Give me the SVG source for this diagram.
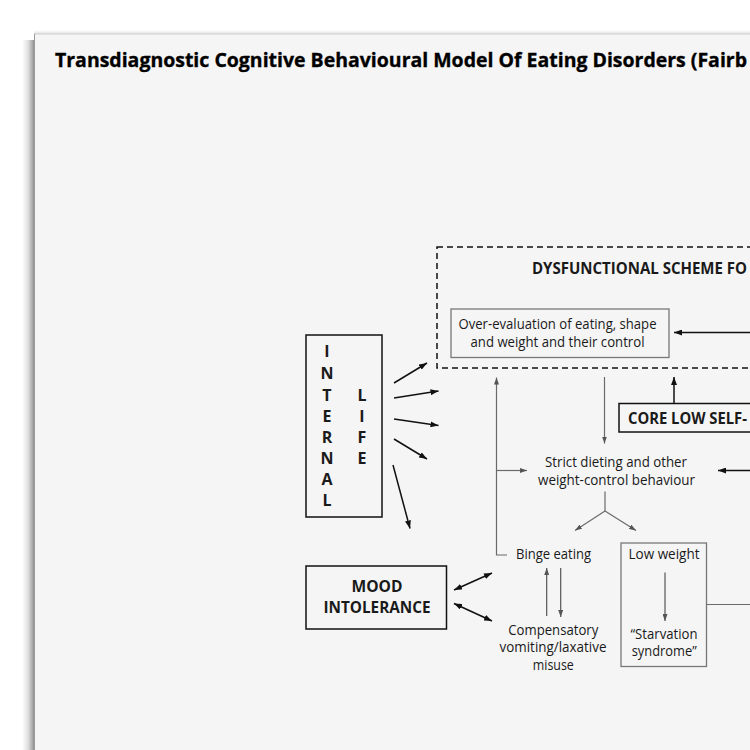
<svg xmlns="http://www.w3.org/2000/svg" width="750" height="750" viewBox="0 0 750 750">
<defs>
<linearGradient id="shadowL" x1="0" x2="1" y1="0" y2="0">
<stop offset="0" stop-color="#000" stop-opacity="0"/>
<stop offset="0.5" stop-color="#000" stop-opacity="0.12"/>
<stop offset="1" stop-color="#000" stop-opacity="0.42"/>
</linearGradient>
<linearGradient id="shadowT" x1="0" x2="0" y1="0" y2="1">
<stop offset="0" stop-color="#000" stop-opacity="0"/>
<stop offset="1" stop-color="#000" stop-opacity="0.12"/>
</linearGradient>
<marker id="ab" viewBox="0 0 8 6" refX="8" refY="3" markerWidth="8" markerHeight="6" markerUnits="userSpaceOnUse" orient="auto-start-reverse">
<path d="M0,0 L8,3 L0,6 Z" fill="#111"/>
</marker>
<marker id="ag" viewBox="0 0 7 5" refX="7" refY="2.5" markerWidth="7" markerHeight="5" markerUnits="userSpaceOnUse" orient="auto-start-reverse">
<path d="M0,0 L7,2.5 L0,5 Z" fill="#555"/>
</marker>
<style>
.bk{stroke:#111;stroke-width:1.5;fill:none}
.gr{stroke:#6a6a6a;stroke-width:1.2;fill:none}
.gd{stroke:#555;stroke-width:1.2;fill:none}
.box{fill:none;stroke:#111;stroke-width:1.5}
.gbox{fill:none;stroke:#777;stroke-width:1.3}
.t{font-family:"Open Sans",Lato,"Liberation Sans",sans-serif;font-size:14.5px;fill:#1a1a1a;text-anchor:middle}
.b{font-weight:bold;font-size:15.5px}
.ah{marker-end:url(#ab)}
.ahg{marker-end:url(#ag)}
</style>
</defs>

<rect x="0" y="0" width="750" height="750" fill="#ffffff"/>
<g id="paper">
<rect x="22" y="40" width="12" height="710" fill="url(#shadowL)"/>
<rect x="34" y="30" width="716" height="4" fill="url(#shadowT)"/>
<rect x="34" y="34" width="716" height="716" fill="#f5f5f5"/>
<line x1="34" y1="34" x2="750" y2="34" stroke="#cfcfcf" stroke-width="1"/>
<line x1="34.5" y1="34" x2="34.5" y2="750" stroke="#9a9a9a" stroke-width="1"/>
</g>

<g id="title">
<text x="55" y="67" class="t" style="text-anchor:start;font-weight:bold;font-size:20px;fill:#000;stroke:#000;stroke-width:0.35" textLength="692" lengthAdjust="spacingAndGlyphs">Transdiagnostic Cognitive Behavioural Model Of Eating Disorders (Fairb</text>
</g>

<g id="dysfunctional-scheme">
<rect x="437" y="247" width="330" height="121" fill="none" stroke="#111" stroke-width="1.5" stroke-dasharray="6,4"/>
<text x="532" y="274" class="t b" style="text-anchor:start" textLength="215" lengthAdjust="spacingAndGlyphs">DYSFUNCTIONAL SCHEME FO</text>
</g>

<g id="over-evaluation">
<rect x="451" y="309" width="218" height="48.5" class="gbox"/>
<text x="557.5" y="329" class="t" textLength="198" lengthAdjust="spacingAndGlyphs">Over-evaluation of eating, shape</text>
<text x="557.5" y="347" class="t" textLength="174" lengthAdjust="spacingAndGlyphs">and weight and their control</text>
</g>

<g id="core-low-self-esteem">
<rect x="619" y="403.5" width="140" height="28.5" class="box"/>
<text x="628" y="424" class="t b" style="text-anchor:start" textLength="119" lengthAdjust="spacingAndGlyphs">CORE LOW SELF-</text>
</g>

<g id="internal-life">
<rect x="306" y="335" width="76" height="182" class="box"/>
<g class="t b" style="font-size:16px">
<text x="327" y="357">I</text>
<text x="327" y="379">N</text>
<text x="327" y="400.5">T</text>
<text x="327" y="421.5">E</text>
<text x="327" y="442.5">R</text>
<text x="327" y="464">N</text>
<text x="327" y="485">A</text>
<text x="327" y="506">L</text>
<text x="362" y="400.5">L</text>
<text x="362" y="421.5">I</text>
<text x="362" y="442.5">F</text>
<text x="362" y="464">E</text>
</g>
</g>

<g id="mood-intolerance">
<rect x="306" y="566" width="140.5" height="63" class="box"/>
<text x="377" y="592" class="t b" style="font-size:16px" textLength="51" lengthAdjust="spacingAndGlyphs">MOOD</text>
<text x="377" y="613" class="t b" style="font-size:16px" textLength="107" lengthAdjust="spacingAndGlyphs">INTOLERANCE</text>
</g>

<g id="strict-dieting">
<text x="616" y="467" class="t" textLength="142" lengthAdjust="spacingAndGlyphs">Strict dieting and other</text>
<text x="616.5" y="484.5" class="t" textLength="157" lengthAdjust="spacingAndGlyphs">weight-control behaviour</text>
</g>

<g id="binge-eating">
<text x="553.5" y="559" class="t" textLength="75" lengthAdjust="spacingAndGlyphs">Binge eating</text>
</g>

<g id="compensatory">
<text x="553.3" y="634.5" class="t" textLength="90" lengthAdjust="spacingAndGlyphs">Compensatory</text>
<text x="553" y="652" class="t" textLength="107" lengthAdjust="spacingAndGlyphs">vomiting/laxative</text>
<text x="553.3" y="669.5" class="t" textLength="41" lengthAdjust="spacingAndGlyphs">misuse</text>
</g>

<g id="low-weight">
<rect x="621" y="543" width="85.5" height="123.5" class="gbox"/>
<text x="664" y="559" class="t" textLength="71" lengthAdjust="spacingAndGlyphs">Low weight</text>
<text x="664" y="638.5" class="t" textLength="67" lengthAdjust="spacingAndGlyphs">“Starvation</text>
<text x="664.2" y="655.5" class="t" textLength="65" lengthAdjust="spacingAndGlyphs">syndrome”</text>
</g>

<g id="connectors">
<line x1="752" y1="332.5" x2="674" y2="332.5" class="bk ah"/>
<line x1="674" y1="403.5" x2="674" y2="377" class="bk ah"/>
<line x1="752" y1="470.5" x2="718" y2="470.5" class="bk ah"/>
<line x1="604.5" y1="377" x2="604.5" y2="443.5" class="gr ahg"/>
<polyline points="507,555 496.5,555 496.5,377.5" class="gr ahg"/>
<line x1="496.5" y1="470.5" x2="527" y2="470.5" class="gr ahg"/>
<line x1="605" y1="491.5" x2="605" y2="511" class="gr"/>
<line x1="605" y1="511" x2="575" y2="530.5" class="gr ahg"/>
<line x1="605" y1="511" x2="636" y2="530.5" class="gr ahg"/>
<line x1="546.7" y1="616" x2="546.7" y2="568" class="gd ahg"/>
<line x1="560.7" y1="568" x2="560.7" y2="617" class="gd ahg"/>
<line x1="665" y1="572.5" x2="665" y2="621" class="gd ahg"/>
<line x1="706.5" y1="604.5" x2="752" y2="604.5" class="gr"/>
<line x1="394" y1="383" x2="427" y2="363" class="bk ah"/>
<line x1="394" y1="398" x2="438.5" y2="391" class="bk ah"/>
<line x1="394" y1="419" x2="438.5" y2="425.5" class="bk ah"/>
<line x1="394" y1="439" x2="427" y2="459" class="bk ah"/>
<line x1="393" y1="465" x2="410" y2="528.5" class="bk ah"/>
<line x1="454" y1="590" x2="492" y2="573" class="bk" marker-start="url(#ab)" marker-end="url(#ab)"/>
<line x1="454" y1="603.5" x2="492" y2="621" class="bk" marker-start="url(#ab)" marker-end="url(#ab)"/>
</g>
</svg>
